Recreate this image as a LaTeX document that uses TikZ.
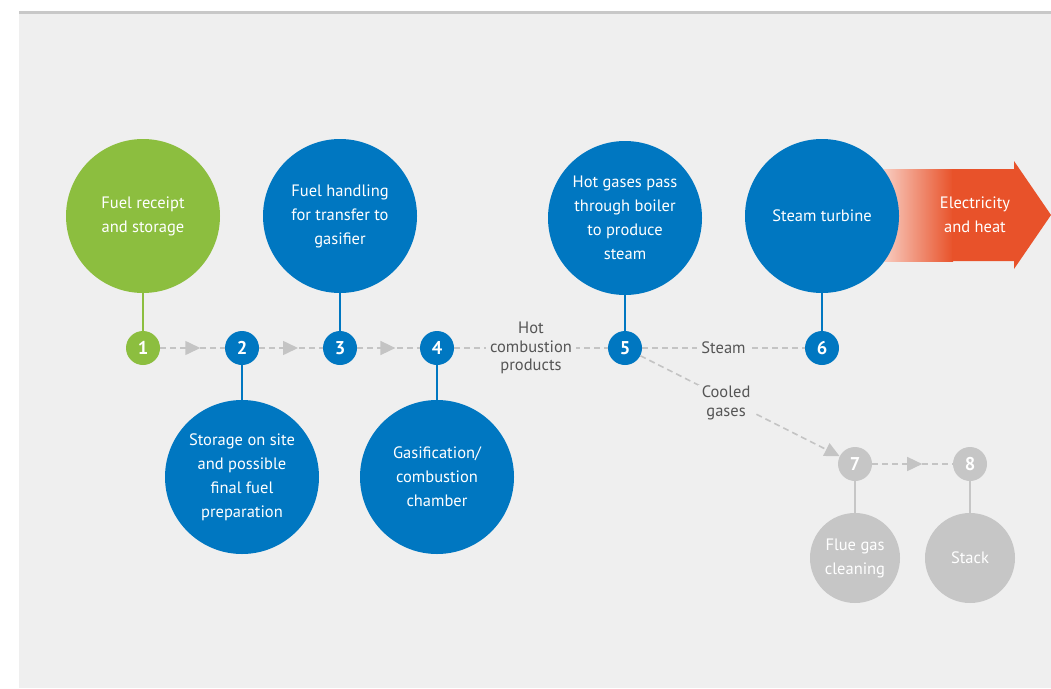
\documentclass[tikz,border=0pt]{standalone}
\usepackage{fontspec}
\setmainfont{PT Sans}
\usetikzlibrary{arrows.meta,decorations.markings}

\definecolor{panel}{HTML}{EFEFEF}
\definecolor{rulegray}{HTML}{C8C8C8}
\definecolor{fuelgreen}{HTML}{8CBE3F}
\definecolor{procblue}{HTML}{0077C1}
\definecolor{ghost}{HTML}{C6C6C6}
\definecolor{flowline}{HTML}{C4C4C4}
\definecolor{labeltext}{HTML}{555555}
\definecolor{power}{HTML}{E8522A}

\tikzset{
  bigstage/.style={circle, minimum size=154pt, inner sep=0pt, text=white,
    align=center, font=\fontsize{16.5}{24}\selectfont},
  ghoststage/.style={circle, minimum size=90pt, inner sep=0pt, text=white,
    align=center, fill=ghost, font=\fontsize{16.5}{24}\selectfont},
  smallstage/.style={circle, minimum size=34pt, inner sep=0pt, text=white,
    font=\fontsize{18.5}{18.5}\selectfont\bfseries},
  stem/.style={line width=2pt},
  flow/.style={draw=flowline, line width=1.6pt, dash pattern=on 6pt off 4pt},
  flowtip/.style={-{Triangle[length=15pt,width=14pt,fill=flowline]}},
  midarrow/.style={postaction=decorate, decoration={markings,
    mark=at position #1 with {\arrow[flowline]{Triangle[length=15pt,width=14pt]}}}},
  flowlabel/.style={fill=panel, text=labeltext, align=center, inner xsep=4pt,
    inner ysep=1pt, font=\fontsize{16.5}{18.5}\selectfont},
}

\begin{document}
\begin{tikzpicture}[x=1pt,y=-1pt]
  \useasboundingbox (0,0) rectangle (1051,688);
  \fill[white] (0,0) rectangle (1051,688);
  % panel and top rule
  \fill[panel] (19,13) rectangle (1051,688);
  \fill[rulegray] (19,10.5) rectangle (1051,14);

  % output arrow (drawn first so the turbine circle sits over it)
  \fill[left color=power!30!white, right color=power] (884,169) rectangle (953,261);
  \fill[power] (952,169) -- (1014,169) -- (1014,161) -- (1051,215)
    -- (1014,269) -- (1014,261) -- (952,261) -- cycle;
  \node[text=white, align=center, font=\fontsize{16.5}{24}\selectfont]
    (output) at (975,215) {Electricity\\and heat};

  % process stages
  \node[bigstage, fill=fuelgreen] (b1) at (143,216) {Fuel receipt\\and storage};
  \node[bigstage, fill=procblue]  (b2) at (242,477) {Storage on site\\and possible\\final fuel\\preparation};
  \node[bigstage, fill=procblue]  (b3) at (340,216) {Fuel handling\\for transfer to\\gasifier};
  \node[bigstage, fill=procblue]  (b4) at (437,477) {Gasification/\\combustion\\chamber};
  \node[bigstage, fill=procblue]  (b5) at (625,218) {Hot gases pass\\through boiler\\to produce\\steam};
  \node[bigstage, fill=procblue]  (b6) at (822,216) {Steam turbine};
  \node[ghoststage] (b7) at (855,558) {Flue gas\\cleaning};
  \node[ghoststage] (b8) at (970,558) {Stack};

  % numbered markers
  \node[smallstage, fill=fuelgreen] (s1) at (143,348) {1};
  \node[smallstage, fill=procblue]  (s2) at (242,348) {2};
  \node[smallstage, fill=procblue]  (s3) at (340,348) {3};
  \node[smallstage, fill=procblue]  (s4) at (437,348) {4};
  \node[smallstage, fill=procblue]  (s5) at (625,348) {5};
  \node[smallstage, fill=procblue]  (s6) at (822,348) {6};
  \node[smallstage, fill=ghost]     (s7) at (855,464) {7};
  \node[smallstage, fill=ghost]     (s8) at (970,464) {8};

  % stems joining stages to markers
  \draw[stem, fuelgreen] (b1) -- (s1);
  \draw[stem, procblue] (b2) -- (s2);
  \draw[stem, procblue] (b3) -- (s3);
  \draw[stem, procblue] (b4) -- (s4);
  \draw[stem, procblue] (b5) -- (s5);
  \draw[stem, procblue] (b6) -- (s6);
  \draw[stem, ghost] (b7) -- (s7);
  \draw[stem, ghost] (b8) -- (s8);

  % flow connectors
  \draw[flow, midarrow=0.62] (s1) -- (s2);
  \draw[flow, midarrow=0.61] (s2) -- (s3);
  \draw[flow, midarrow=0.61] (s3) -- (s4);
  \draw[flow] (s4) -- node[flowlabel] (hot) {Hot\\combustion\\products} (s5);
  \draw[flow] (s5) -- node[flowlabel] (steam) {Steam} (s6);
  \draw[flow, flowtip] (s5) -- node[flowlabel, pos=0.43, yshift=-4pt] (cooled) {Cooled\\gases} (s7);
  \draw[flow, midarrow=0.62] (s7) -- (s8);
\end{tikzpicture}
\end{document}
